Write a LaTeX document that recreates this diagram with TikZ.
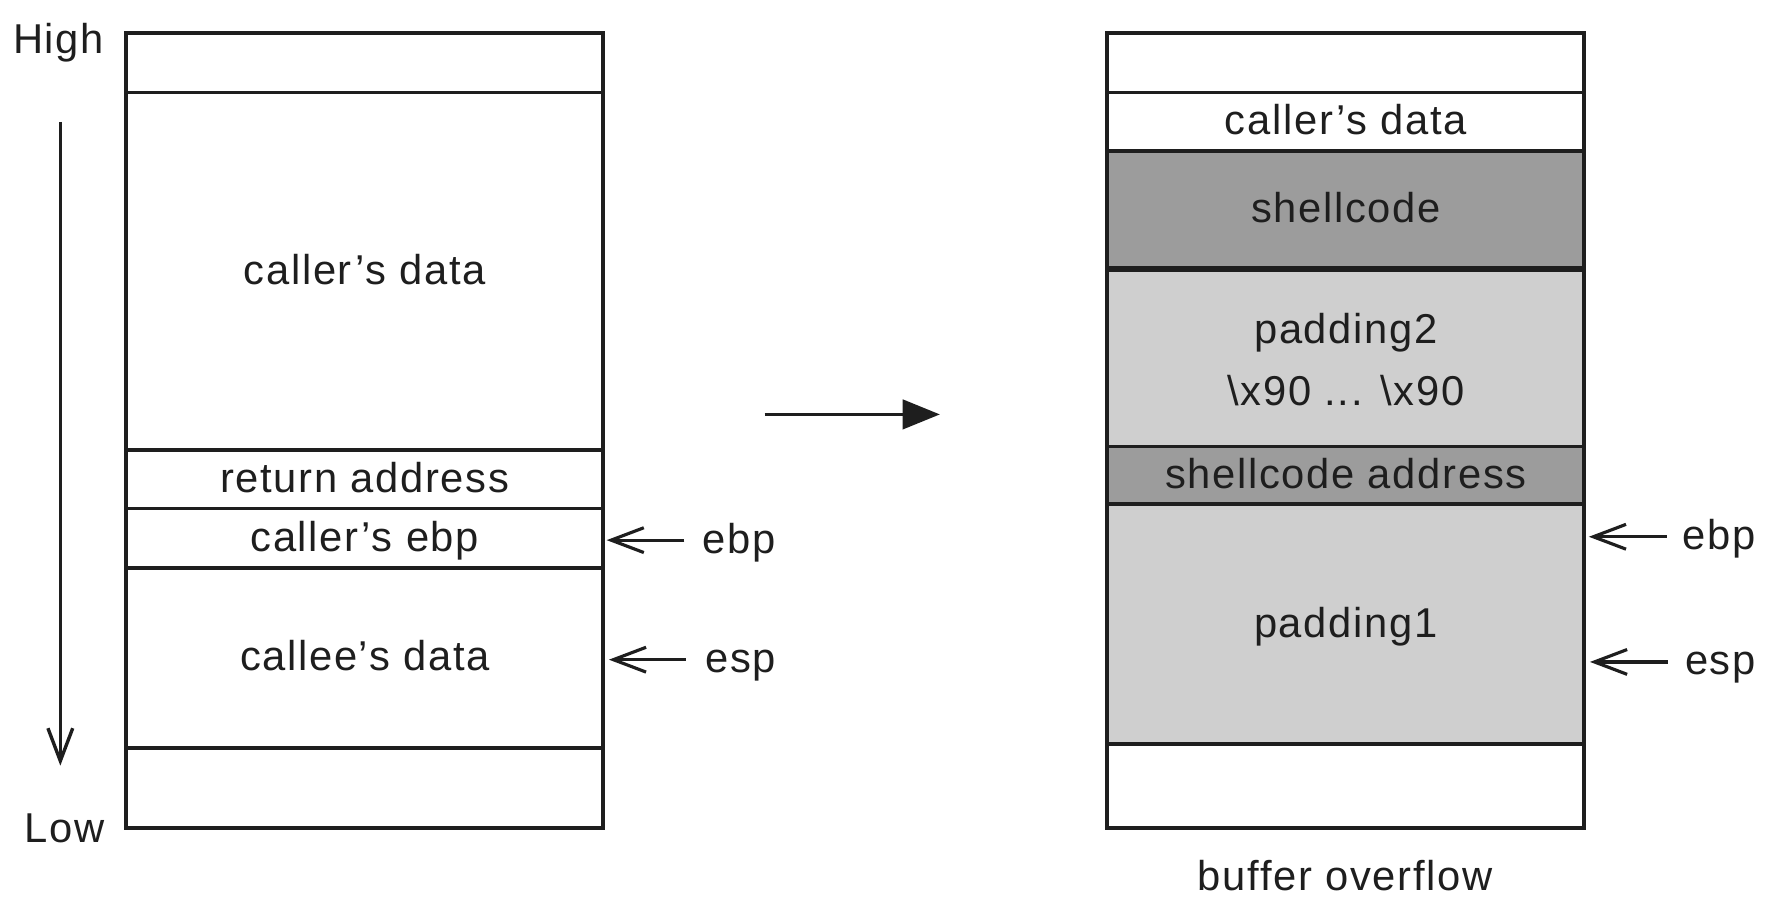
\documentclass[tikz,border=0pt]{standalone}
\usepackage{fontspec}
\setmainfont{Liberation Sans}[LetterSpace=4]
\usetikzlibrary{arrows.meta}
\definecolor{dk}{HTML}{9C9C9C}
\definecolor{lt}{HTML}{CFCFCF}
\definecolor{ink}{HTML}{1E1E1E}
\begin{document}
\begin{tikzpicture}[x=0.5pt,y=-0.5pt,
  every node/.style={font=\fontsize{18.5}{27.5}\selectfont, text=ink},
  txt/.style={inner sep=0pt, text height=12.5pt, text depth=1pt},
  cell/.style={draw=ink, line width=1.7pt, minimum width=211.5pt, inner sep=0pt, outer sep=0pt, text height=12.5pt, text depth=1pt},
  cellml/.style={draw=ink, line width=1.7pt, minimum width=211.5pt, inner sep=0pt, outer sep=0pt, align=center},
  ptr/.style={draw=ink, line width=1.4pt, -{Straight Barb[length=14.5pt,width=11pt,line width=1.4pt]}},
  bigarrow/.style={draw=ink, line width=1.5pt, -{Triangle[length=16.5pt,width=13pt]}},
  downarrow/.style={draw=ink, line width=1.5pt, -{Straight Barb[length=14.5pt,width=11pt,line width=1.5pt]}}
]
\useasboundingbox (0,0) rectangle (1567,804);
% left stack
\node[cell, minimum height=26.5pt] (L1) at (323.5,55.5) {};
\node[cell, minimum height=158.5pt] (L2) at (323.5,240.5) {caller’s data};
\node[cell, minimum height=26pt] (L3) at (323.5,425) {return address};
\node[cell, minimum height=26.5pt] (L4) at (323.5,477.5) {caller’s ebp};
\node[cell, minimum height=79.5pt] (L5) at (323.5,583.5) {callee’s data};
\node[cell, minimum height=35.5pt] (L6) at (323.5,698.5) {};
% right stack
\node[cell, minimum height=26.5pt] (R1) at (1193.5,55.5) {};
\node[cell, minimum height=26pt] (R2) at (1193.5,108) {caller’s data};
\node[cell, fill=dk, minimum height=52pt] (R3) at (1193.5,186) {shellcode};
\node[cellml, fill=lt, minimum height=79pt] (R4) at (1193.5,318.5) {padding2\\\textbackslash x90 ... \textbackslash x90};
\node[cell, fill=dk, minimum height=25.5pt] (R5) at (1193.5,421.5) {shellcode address};
\node[cell, fill=lt, minimum height=106.5pt] (R6) at (1193.5,553.5) {padding1};
\node[cell, minimum height=37pt] (R7) at (1193.5,697) {};
% High / Low
\node[txt] (high) at (52,36) {High};
\node[txt] (low) at (57,736) {Low};
\coordinate (d1) at (53.5,108);
\coordinate (d2) at (53.5,679);
\draw[downarrow] (d1) -- (d2);
% pointer labels
\node[txt, anchor=west] (ebpL) at (623,479) {ebp};
\node[txt, anchor=west] (espL) at (625,585) {esp};
\node[txt, anchor=west] (ebpR) at (1492,476) {ebp};
\node[txt, anchor=west] (espR) at (1494,587) {esp};
\coordinate (tebpL) at (538,479);
\coordinate (tespL) at (540,585);
\coordinate (tebpR) at (1409,476);
\coordinate (tespR) at (1410,587);
\draw[ptr, shorten <=8pt] (ebpL.west) -- (tebpL);
\draw[ptr, shorten <=8.5pt] (espL.west) -- (tespL);
\draw[ptr, shorten <=7pt] (ebpR.west) -- (tebpR);
\draw[ptr, shorten <=7.5pt] (espR.west) -- (tespR);
% middle arrow
\coordinate (m1) at (678,367.5);
\coordinate (m2) at (833.5,367.5);
\draw[bigarrow] (m1) -- (m2);
% caption
\node[txt] (cap) at (1193,778) {buffer overflow};
\end{tikzpicture}
\end{document}
